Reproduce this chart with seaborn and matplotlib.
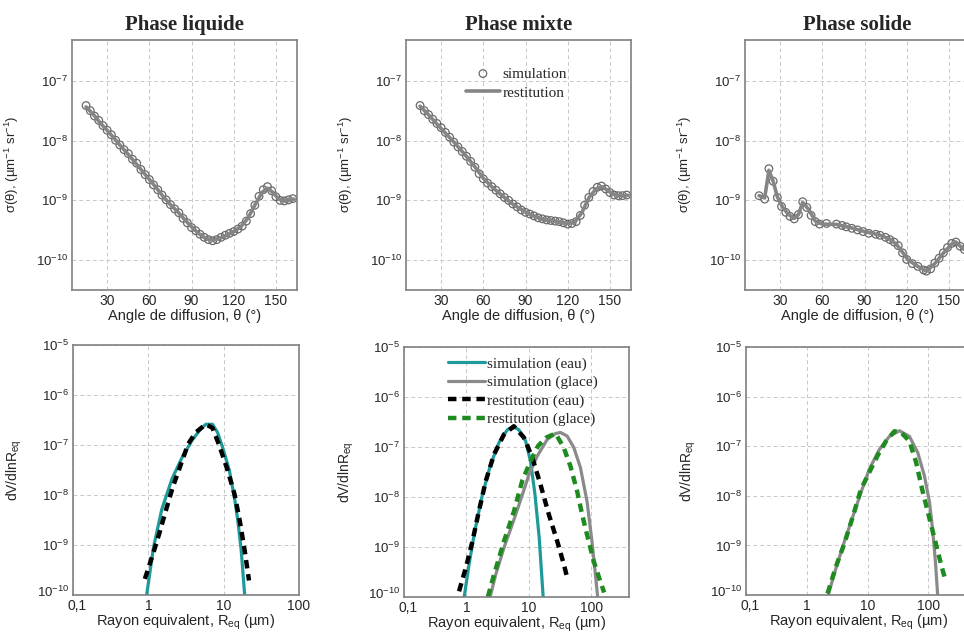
import numpy as np
import matplotlib
matplotlib.use("Agg")
import matplotlib.pyplot as plt
import matplotlib.transforms as mtransforms
from matplotlib.ticker import MultipleLocator, LogLocator, NullFormatter
import seaborn as sns

# ---------------- donnees ----------------
# fonction de phase (haut) : angle (deg) -> sigma (um-1 sr-1)
ang_liq = [15, 18, 21, 24, 27, 30, 33, 36, 39, 42, 45, 48, 51, 54, 57, 60, 63, 66, 69, 72,
           75, 78, 81, 84, 87, 90, 93, 96, 99, 102, 105, 108, 111, 114, 117, 120, 123, 126,
           129, 132, 135, 138, 141, 144, 147, 150, 153, 156, 159, 162]
sig_liq_sim = [3.9e-8, 3.2e-8, 2.6e-8, 2.2e-8, 1.8e-8, 1.5e-8, 1.26e-8, 1.02e-8, 8.5e-9, 7.1e-9,
               6.1e-9, 4.9e-9, 4.2e-9, 3.3e-9, 2.7e-9, 2.24e-9, 1.82e-9, 1.51e-9, 1.23e-9, 1.02e-9,
               8.5e-10, 7.2e-10, 6.2e-10, 5.0e-10, 4.2e-10, 3.5e-10, 3.1e-10, 2.7e-10, 2.4e-10, 2.2e-10,
               2.1e-10, 2.2e-10, 2.4e-10, 2.6e-10, 2.8e-10, 3.0e-10, 3.3e-10, 3.7e-10, 4.5e-10, 6.0e-10,
               8.3e-10, 1.17e-9, 1.51e-9, 1.7e-9, 1.45e-9, 1.15e-9, 1.0e-9, 9.8e-10, 1.02e-9, 1.07e-9]
ang_liq_rest = [15, 20, 25, 30, 35, 40, 45, 50, 55, 60, 65, 70, 75, 80, 85, 90, 95, 100, 105, 110,
                115, 120, 125, 130, 135, 140, 144, 148, 152, 156, 160, 163]
sig_liq_rest = [3.7e-8, 2.8e-8, 2.0e-8, 1.5e-8, 1.1e-8, 8.0e-9, 5.9e-9, 4.3e-9, 3.1e-9, 2.25e-9,
                1.62e-9, 1.15e-9, 8.5e-10, 6.5e-10, 4.8e-10, 3.6e-10, 2.8e-10, 2.3e-10, 2.15e-10, 2.3e-10,
                2.6e-10, 3.0e-10, 3.6e-10, 5.0e-10, 8.3e-10, 1.35e-9, 1.6e-9, 1.35e-9, 1.05e-9, 9.8e-10,
                1.02e-9, 1.05e-9]

ang_mix = ang_liq
sig_mix_sim = [3.9e-8, 3.2e-8, 2.75e-8, 2.3e-8, 1.95e-8, 1.66e-8, 1.38e-8, 1.15e-8, 9.5e-9, 7.9e-9,
               6.6e-9, 5.5e-9, 4.5e-9, 3.6e-9, 2.8e-9, 2.3e-9, 1.95e-9, 1.7e-9, 1.48e-9, 1.29e-9,
               1.12e-9, 1.0e-9, 8.7e-10, 7.8e-10, 6.9e-10, 6.3e-10, 5.9e-10, 5.5e-10, 5.1e-10, 4.9e-10,
               4.7e-10, 4.6e-10, 4.5e-10, 4.4e-10, 4.2e-10, 4.0e-10, 4.1e-10, 4.4e-10, 5.6e-10, 8.3e-10,
               1.12e-9, 1.41e-9, 1.66e-9, 1.74e-9, 1.55e-9, 1.35e-9, 1.23e-9, 1.2e-9, 1.2e-9, 1.23e-9]
ang_mix_rest = ang_liq_rest
sig_mix_rest = [3.8e-8, 2.9e-8, 2.15e-8, 1.6e-8, 1.2e-8, 9.0e-9, 6.6e-9, 4.8e-9, 3.4e-9, 2.35e-9,
                1.78e-9, 1.4e-9, 1.12e-9, 9.0e-10, 7.5e-10, 6.4e-10, 5.6e-10, 5.0e-10, 4.7e-10, 4.5e-10,
                4.3e-10, 4.1e-10, 4.3e-10, 6.2e-10, 1.1e-9, 1.55e-9, 1.7e-9, 1.5e-9, 1.28e-9, 1.2e-9,
                1.2e-9, 1.22e-9]

ang_sol = [15, 19, 22, 25, 28, 31, 34, 37, 40, 43, 46, 49, 52, 55, 58, 63, 70, 74, 77, 81,
           85, 89, 93, 98, 101, 105, 108, 111, 114, 117, 120, 124, 128, 132, 134, 137, 140, 143,
           146, 149, 152, 155, 158, 161, 164]
sig_sol_sim = [1.2e-9, 1.05e-9, 3.4e-9, 2.1e-9, 1.12e-9, 7.9e-10, 6.3e-10, 5.4e-10, 4.9e-10, 5.8e-10,
               9.5e-10, 7.6e-10, 5.6e-10, 4.4e-10, 4.0e-10, 4.1e-10, 4.0e-10, 3.8e-10, 3.6e-10, 3.4e-10,
               3.2e-10, 3.0e-10, 2.8e-10, 2.7e-10, 2.6e-10, 2.4e-10, 2.2e-10, 2.0e-10, 1.74e-10, 1.32e-10,
               1.02e-10, 8.7e-11, 7.8e-11, 6.8e-11, 6.5e-11, 7.1e-11, 8.9e-11, 1.07e-10, 1.32e-10, 1.62e-10,
               1.9e-10, 2.0e-10, 1.7e-10, 1.5e-10, 1.38e-10]
ang_sol_rest = [15, 19, 22, 25, 28, 32, 36, 40, 43, 46, 50, 55, 60, 70, 80, 90, 100, 108, 113, 117,
                121, 128, 134, 140, 146, 152, 155, 160, 165]
sig_sol_rest = [1.2e-9, 1.1e-9, 3.2e-9, 2.1e-9, 1.15e-9, 7.5e-10, 5.8e-10, 5.0e-10, 5.8e-10, 9.2e-10,
                7.2e-10, 4.5e-10, 4.0e-10, 3.95e-10, 3.5e-10, 3.0e-10, 2.65e-10, 2.25e-10, 1.8e-10, 1.35e-10,
                1.0e-10, 7.8e-11, 6.5e-11, 8.7e-11, 1.3e-10, 1.85e-10, 2.0e-10, 1.55e-10, 1.35e-10]

# distributions en taille (bas) : rayon (um) -> dV/dlnR
r_liq_eau_sim = [0.92, 0.95, 1.17, 1.51, 2.06, 2.8, 3.83, 4.96, 5.8, 7.1, 8.3, 9.7, 11.9, 13.9, 15.4, 17.1, 19.0, 19.6]
v_liq_eau_sim = [6e-11, 1.0e-10, 8.9e-10, 5.2e-9, 2.1e-8, 5.6e-8, 1.26e-7, 2.1e-7, 2.6e-7, 2.6e-7,
                 1.78e-7, 8.9e-8, 3.1e-8, 8.9e-9, 3.1e-9, 7.8e-10, 1.0e-10, 6e-11]
r_liq_eau_rest = [0.9, 1.17, 1.41, 1.68, 2.1, 2.67, 3.38, 4.25, 5.78, 7.1, 8.75, 11.3, 13.9, 16.2, 19.0, 21.7]
v_liq_eau_rest = [2.1e-10, 7.1e-10, 1.78e-9, 4.5e-9, 1.41e-8, 3.9e-8, 1.05e-7, 1.78e-7, 2.6e-7, 2.2e-7,
                  9.8e-8, 3.1e-8, 1.05e-8, 3.3e-9, 7.8e-10, 1.95e-10]

r_mix_eau_sim = [0.9, 0.92, 1.1, 1.36, 1.8, 2.44, 3.32, 4.5, 5.6, 6.9, 8.85, 10.6, 12.5, 14.6, 16.9, 17.4]
v_mix_eau_sim = [6e-11, 1.0e-10, 4.5e-10, 2.1e-9, 1.12e-8, 4.5e-8, 1.23e-7, 2.2e-7, 2.6e-7, 2.2e-7,
                 1.32e-7, 5.2e-8, 1.12e-8, 1.55e-9, 1.0e-10, 6e-11]
r_mix_eau_rest = [0.76, 0.98, 1.25, 1.54, 2.04, 2.76, 3.98, 5.75, 8.3, 11.3, 15.3, 20.8, 28.3, 36.2, 40.8]
v_mix_eau_rest = [1.3e-10, 3.9e-10, 1.32e-9, 4.5e-9, 2.1e-8, 7.1e-8, 1.78e-7, 2.6e-7, 1.55e-7, 6.2e-8,
                  1.78e-8, 4.5e-9, 1.32e-9, 4.5e-10, 2.5e-10]
r_mix_gl_sim = [2.3, 2.39, 2.94, 4.0, 5.4, 7.4, 10.0, 13.6, 19.6, 26.7, 32, 40.9, 52.2, 66.7, 85, 102, 116, 126, 129]
v_mix_gl_sim = [6e-11, 1.0e-10, 2.8e-10, 9.8e-10, 2.8e-9, 8.9e-9, 2.8e-8, 6.6e-8, 1.41e-7, 1.86e-7,
                1.95e-7, 1.66e-7, 9.8e-8, 3.9e-8, 8.3e-9, 1.32e-9, 2.8e-10, 1.0e-10, 6e-11]
r_mix_gl_rest = [2.2, 2.76, 4.0, 5.77, 7.8, 10.6, 14, 19, 26.7, 36, 46, 59, 71, 85, 109, 138, 160]
v_mix_gl_rest = [1.0e-10, 2.8e-10, 1.32e-9, 5.2e-9, 2.1e-8, 5.2e-8, 1.05e-7, 1.55e-7, 1.86e-7, 9.8e-8,
                 4.2e-8, 1.32e-8, 4.5e-9, 1.78e-9, 5.2e-10, 2.1e-10, 1.23e-10]

r_sol_gl_sim = [2.2, 2.28, 3.0, 4.12, 5.66, 7.76, 10.6, 15.5, 22.8, 33.3, 48.6, 66.7, 85.9, 104, 118, 130, 141, 145]
v_sol_gl_sim = [6e-11, 1.07e-10, 3.4e-10, 1.17e-9, 3.7e-9, 1.17e-8, 3.4e-8, 8.5e-8, 1.58e-7, 2.05e-7,
                1.58e-7, 7.4e-8, 2.5e-8, 7.4e-9, 1.86e-9, 4.7e-10, 1.07e-10, 6e-11]
r_sol_gl_rest = [2.19, 3.0, 4.12, 5.66, 7.76, 10.6, 14.6, 20, 27.5, 35.5, 48.6, 62.7, 78.7, 97.7, 118, 143, 162, 184]
v_sol_gl_rest = [1.07e-10, 3.7e-10, 1.07e-9, 3.7e-9, 1.35e-8, 2.95e-8, 6.5e-8, 1.26e-7, 2.0e-7, 1.9e-7,
                 1.26e-7, 4.7e-8, 1.35e-8, 4.7e-9, 1.86e-9, 7.4e-10, 4.0e-10, 2.3e-10]

titles = ["Phase liquide", "Phase mixte", "Phase solide"]

# couleurs
TEAL = "#1f9a9a"
GREEN = "#1f8a1f"
GRAY = "#8a8a8a"
EDGE = "#808080"

sns.set_theme(style="white")
plt.rcParams["font.family"] = ["Liberation Sans", "DejaVu Sans"]
plt.rcParams["mathtext.fontset"] = "custom"
plt.rcParams["mathtext.rm"] = "Liberation Sans"
plt.rcParams["mathtext.it"] = "Liberation Sans:italic"
plt.rcParams["mathtext.bf"] = "Liberation Sans:bold"
plt.rcParams["mathtext.default"] = "regular"

W, H = 964, 636
fig = plt.figure(figsize=(W / 100, H / 100), dpi=100)


def rect(x0, y0, x1, y1):
    # position en pixels -> fraction de figure
    return [x0 / W, 1 - y1 / H, (x1 - x0) / W, (y1 - y0) / H]


def style_axes(ax):
    for sp in ax.spines.values():
        sp.set_color(EDGE)
        sp.set_linewidth(1.2)
    ax.grid(True, which="major", color="#c8c8c8", lw=0.7, ls=(0, (4, 3)))
    ax.tick_params(which="both", direction="in", color=EDGE, top=False, right=False, pad=3)
    ax.tick_params(axis="x", labelsize=10)
    ax.tick_params(axis="y", labelsize=9.5)
    ax.tick_params(which="major", length=3)
    ax.tick_params(which="minor", length=1.5)


def nudge_corner(ax):
    # petit decalage des etiquettes du coin bas-gauche pour qu'elles ne se chevauchent pas
    fig.canvas.draw()
    up = mtransforms.ScaledTranslation(0, 4 / 100, fig.dpi_scale_trans)
    right = mtransforms.ScaledTranslation(4 / 100, 0, fig.dpi_scale_trans)
    lab_y = ax.yaxis.get_majorticklabels()[0]
    lab_y.set_transform(lab_y.get_transform() + up)
    lab_x = ax.xaxis.get_majorticklabels()[0]
    lab_x.set_transform(lab_x.get_transform() + right)


DASH = (0, (1.9, 1.3))

# ---------------- ligne du haut : fonction de phase ----------------
top_pos = [rect(72, 39.5, 297, 289.5), rect(406, 39.5, 631, 289.5), rect(745, 39.5, 970, 289.5)]
top_data = [(ang_liq, sig_liq_sim, ang_liq_rest, sig_liq_rest),
            (ang_mix, sig_mix_sim, ang_mix_rest, sig_mix_rest),
            (ang_sol, sig_sol_sim, ang_sol_rest, sig_sol_rest)]

for i, (pos, (a_s, s_s, a_r, s_r)) in enumerate(zip(top_pos, top_data)):
    ax = fig.add_axes(pos)
    ax.set_yscale("log")
    sns.lineplot(x=a_r, y=s_r, ax=ax, color="#858585", lw=2.6, estimator=None, sort=False,
                 label="restitution" if i == 1 else None, legend=False)
    sns.scatterplot(x=a_s, y=s_s, ax=ax, color="#6a6a6a", s=30, marker="o", linewidth=0.9,
                    label="simulation" if i == 1 else None, legend=False)
    pts = ax.collections[-1]
    pts.set_facecolor("none")
    pts.set_edgecolor("#6a6a6a")
    ax.set_xlim(5, 165)
    ax.set_ylim(3.2e-11, 5e-7)
    ax.set_xticks([30, 60, 90, 120, 150])
    ax.xaxis.set_minor_locator(MultipleLocator(10))
    ax.yaxis.set_minor_locator(LogLocator(subs=np.arange(2, 10)))
    ax.yaxis.set_minor_formatter(NullFormatter())
    style_axes(ax)
    ax.set_xlabel("Angle de diffusion, θ (°)", fontsize=10.5, labelpad=1)
    ax.set_ylabel(r"σ(θ), (µm$^{-1}$ sr$^{-1}$)", fontsize=9.5)
    ax.yaxis.set_label_coords(-0.225, 0.5)
    ax.set_title(titles[i], fontsize=15, fontweight="bold", family="Liberation Serif", pad=7)
    if i == 1:
        h, l = ax.get_legend_handles_labels()
        order = [l.index("simulation"), l.index("restitution")]
        ax.legend([h[k] for k in order], [l[k] for k in order], loc="upper left",
                  bbox_to_anchor=(0.24, 0.915), frameon=False, handlelength=2.2,
                  handletextpad=0.2, labelspacing=0.35, borderaxespad=0,
                  prop={"family": "Liberation Serif", "size": 11})

# ---------------- ligne du bas : distributions ----------------
bot_pos = [rect(73, 345, 299, 595), rect(404, 347, 629, 597), rect(746, 347, 971, 595)]
bot_xmax = [100, 400, 500]

for i, pos in enumerate(bot_pos):
    ax = fig.add_axes(pos)
    ax.set_xscale("log")
    ax.set_yscale("log")
    if i == 0:
        sns.lineplot(x=r_liq_eau_sim, y=v_liq_eau_sim, ax=ax, color=TEAL, lw=2.3,
                     estimator=None, sort=False, legend=False)
        sns.lineplot(x=r_liq_eau_rest, y=v_liq_eau_rest, ax=ax, color="black", lw=3.2,
                     linestyle=DASH, estimator=None, sort=False, legend=False)
    elif i == 1:
        sns.lineplot(x=r_mix_eau_sim, y=v_mix_eau_sim, ax=ax, color=TEAL, lw=2.3,
                     estimator=None, sort=False, label="simulation (eau)", legend=False)
        sns.lineplot(x=r_mix_gl_sim, y=v_mix_gl_sim, ax=ax, color=GRAY, lw=2.3,
                     estimator=None, sort=False, label="simulation (glace)", legend=False)
        sns.lineplot(x=r_mix_eau_rest, y=v_mix_eau_rest, ax=ax, color="black", lw=3.2,
                     linestyle=DASH, estimator=None, sort=False, label="restitution (eau)", legend=False)
        sns.lineplot(x=r_mix_gl_rest, y=v_mix_gl_rest, ax=ax, color=GREEN, lw=3.2,
                     linestyle=DASH, estimator=None, sort=False, label="restitution (glace)", legend=False)
        ax.legend(loc="upper left", bbox_to_anchor=(0.17, 0.985), frameon=False,
                  handlelength=2.4, handletextpad=0.1, labelspacing=0.3, borderaxespad=0,
                  prop={"family": "Liberation Serif", "size": 11})
    else:
        sns.lineplot(x=r_sol_gl_sim, y=v_sol_gl_sim, ax=ax, color=GRAY, lw=2.3,
                     estimator=None, sort=False, legend=False)
        sns.lineplot(x=r_sol_gl_rest, y=v_sol_gl_rest, ax=ax, color=GREEN, lw=3.2,
                     linestyle=DASH, estimator=None, sort=False, legend=False)
    ax.set_xlim(0.1, bot_xmax[i])
    ax.set_ylim(1e-10, 1e-5)
    ax.set_xticks([0.1, 1, 10, 100], ["0,1", "1", "10", "100"])
    ax.xaxis.set_minor_locator(LogLocator(subs=np.arange(2, 10)))
    ax.xaxis.set_minor_formatter(NullFormatter())
    ax.yaxis.set_minor_locator(LogLocator(subs=np.arange(2, 10)))
    ax.yaxis.set_minor_formatter(NullFormatter())
    ax.set_yticks([1e-10, 1e-9, 1e-8, 1e-7, 1e-6, 1e-5])
    style_axes(ax)
    ax.set_xlabel(r"Rayon equivalent, R$_{eq}$ (µm)", fontsize=10.5, labelpad=0)
    ax.set_ylabel(r"dV/dlnR$_{eq}$", fontsize=10)
    ax.yaxis.set_label_coords(-0.215, 0.5)
    nudge_corner(ax)

fig.savefig("out.png", dpi=100)
